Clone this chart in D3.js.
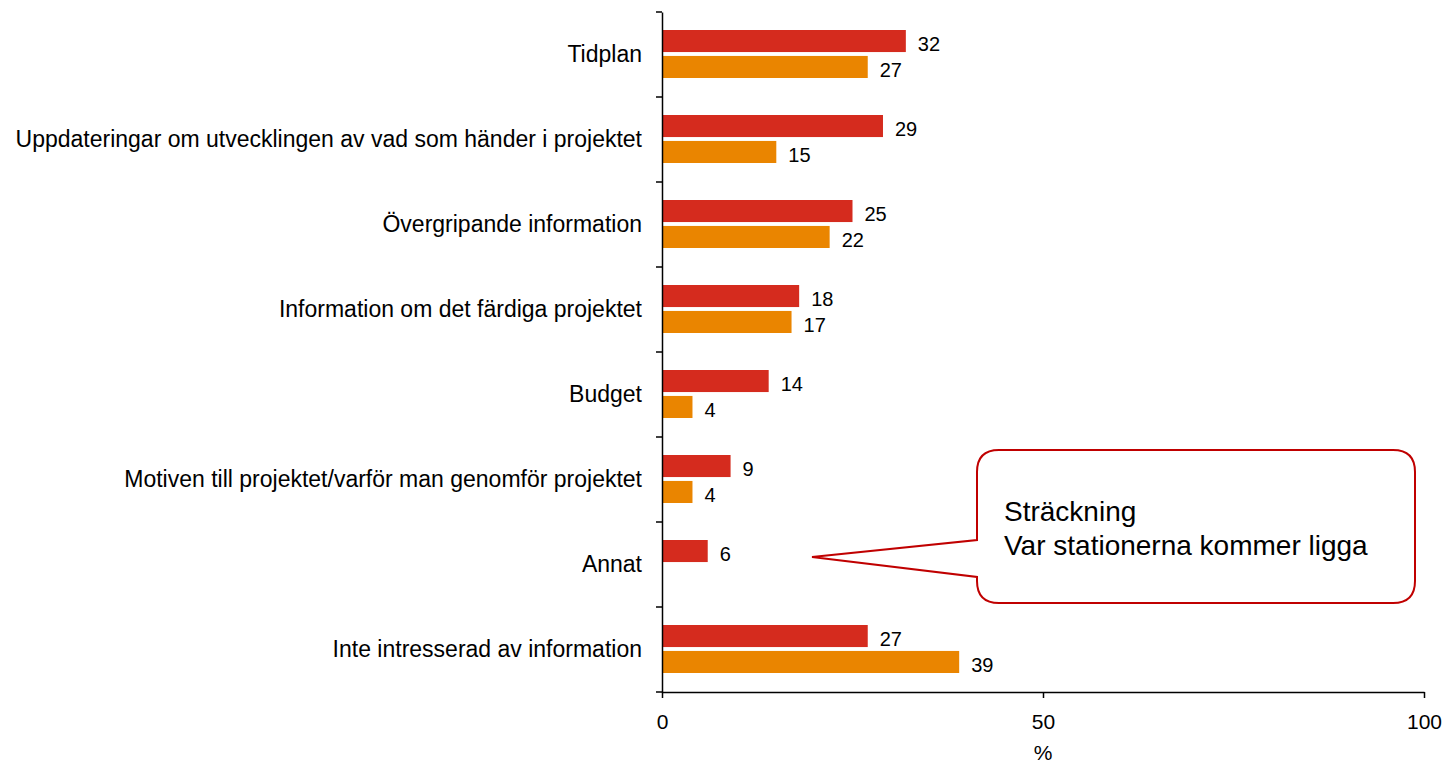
<!DOCTYPE html>
<html>
<head>
<meta charset="utf-8">
<script src="https://cdn.jsdelivr.net/npm/d3@7"></script>
<style>
  body { margin: 0; background: #fff; }
  svg { font-family: "Liberation Sans", Arial, sans-serif; }
</style>
</head>
<body>
<svg id="chart" width="1445" height="764"></svg>
<script>
// categories and the two series (percent)
const categories = [
  'Tidplan',
  'Uppdateringar om utvecklingen av vad som händer i projektet',
  'Övergripande information',
  'Information om det färdiga projektet',
  'Budget',
  'Motiven till projektet/varför man genomför projektet',
  'Annat',
  'Inte intresserad av information'
];
const seriesA = [32, 29, 25, 18, 14, 9, 6, 27];
const seriesB = [27, 15, 22, 17, 4, 4, null, 39];
const xTicks = [0, 50, 100];
const axisTitle = '%';
const calloutLines = ['Sträckning', 'Var stationerna kommer ligga'];

const colors = { A: '#d52b1e', B: '#ea8500' };

const svg = d3.select('#chart');
const margin = { top: 12, left: 662, right: 21, bottom: 72 };
const width = 1445 - margin.left - margin.right;
const height = 764 - margin.top - margin.bottom;

const g = svg.append('g').attr('transform', `translate(${margin.left},${margin.top})`);

const x = d3.scaleLinear().domain([0, 100]).range([0, width]);
const y = d3.scaleBand().domain(categories).range([0, height]);
const inner = d3.scaleBand().domain(['A', 'B']).range([18, 66]).paddingInner(0.15);

// bars
const rows = categories.map((c, i) => ({ c, A: seriesA[i], B: seriesB[i] }));
['A', 'B'].forEach(key => {
  const bars = rows.filter(d => d[key] != null);
  g.selectAll('.bar' + key)
    .data(bars)
    .enter()
    .append('rect')
    .attr('x', 0)
    .attr('y', d => y(d.c) + inner(key))
    .attr('width', d => x(d[key]))
    .attr('height', inner.bandwidth())
    .attr('fill', colors[key]);

  g.selectAll('.lab' + key)
    .data(bars)
    .enter()
    .append('text')
    .attr('x', d => x(d[key]) + 12)
    .attr('y', d => y(d.c) + inner(key) + inner.bandwidth() / 2 + 3)
    .attr('dy', '0.35em')
    .attr('font-size', 20)
    .attr('fill', '#000')
    .text(d => d[key]);
});

// y axis
const yAxis = g.append('g')
  .call(d3.axisLeft(y).tickSize(0).tickPadding(20));
yAxis.select('.domain').attr('stroke', '#000').attr('stroke-width', 1.5);
yAxis.selectAll('text').attr('font-size', 23).attr('fill', '#000');
// boundary ticks between categories
g.selectAll('.ytick')
  .data(d3.range(categories.length + 1))
  .enter()
  .append('line')
  .attr('x1', -6).attr('x2', 0)
  .attr('y1', i => i * y.step()).attr('y2', i => i * y.step())
  .attr('stroke', '#000').attr('stroke-width', 1.5);

// x axis
const xAxis = g.append('g')
  .attr('transform', `translate(0,${height})`)
  .call(d3.axisBottom(x).tickValues(xTicks).tickSize(6).tickSizeOuter(0).tickPadding(16));
xAxis.select('.domain').attr('stroke', '#000').attr('stroke-width', 1.5);
xAxis.selectAll('line').attr('stroke', '#000').attr('stroke-width', 1.5);
xAxis.selectAll('text').attr('font-size', 21).attr('fill', '#000');

g.append('text')
  .attr('x', x(50))
  .attr('y', height + 68)
  .attr('text-anchor', 'middle')
  .attr('font-size', 21)
  .text(axisTitle);

// callout
const bx = 977, by = 450, bw = 438, bh = 153, r = 22;
const tipX = 812, tipY = 557;
const p1 = 540, p2 = 577;
const path = `M${bx + r},${by} H${bx + bw - r} Q${bx + bw},${by} ${bx + bw},${by + r}
  V${by + bh - r} Q${bx + bw},${by + bh} ${bx + bw - r},${by + bh}
  H${bx + r} Q${bx},${by + bh} ${bx},${by + bh - r}
  V${p2} L${tipX},${tipY} L${bx},${p1}
  V${by + r} Q${bx},${by} ${bx + r},${by} Z`;
svg.append('path')
  .attr('d', path)
  .attr('fill', '#fff')
  .attr('stroke', '#c00000')
  .attr('stroke-width', 2);

svg.append('text')
  .attr('x', 1004)
  .attr('font-size', 28)
  .attr('fill', '#000')
  .selectAll('tspan')
  .data(calloutLines)
  .enter()
  .append('tspan')
  .attr('x', 1004)
  .attr('y', (d, i) => 521 + i * 34)
  .text(d => d);
</script>
</body>
</html>
